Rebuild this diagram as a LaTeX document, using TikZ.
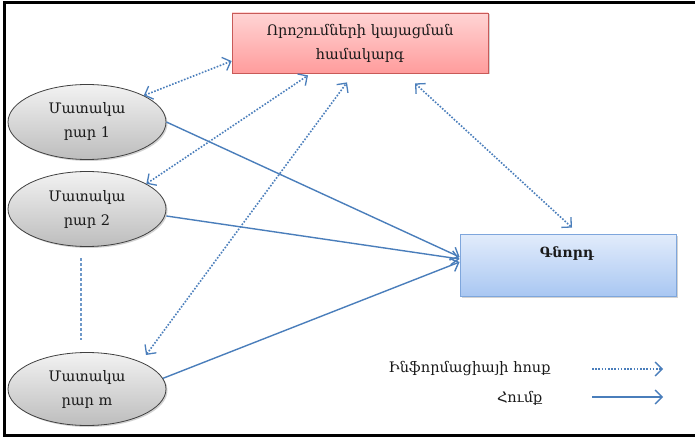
\documentclass[tikz,border=0pt]{standalone}
\usepackage{fontspec}
\newfontfamily\armfont{DejaVu Serif}
\usetikzlibrary{arrows.meta,shapes.geometric,shadows,calc}
\definecolor{flow}{HTML}{4A7EBB}
\definecolor{pinktop}{HTML}{FFD4D4}
\definecolor{pinkbot}{HTML}{FF9C9C}
\definecolor{pinkedge}{HTML}{C85A58}
\definecolor{bluetop}{HTML}{E2ECFB}
\definecolor{bluebot}{HTML}{A9C7F2}
\definecolor{blueedge}{HTML}{7EA6DC}
\definecolor{graytop}{HTML}{F2F2F2}
\definecolor{graybot}{HTML}{BDBDBD}
\definecolor{ink}{HTML}{1A1A1A}
\tikzset{
  txt/.style={font=\armfont\fontsize{14.5}{24}\selectfont, align=center, text=ink},
  shad/.style={drop shadow={opacity=0.35,shadow xshift=1.5pt,shadow yshift=-1.5pt}},
  dmsbox/.style={txt, rectangle, draw=pinkedge, line width=0.8pt, shad,
    top color=pinktop, bottom color=pinkbot, minimum width=256pt, minimum height=60pt},
  buyerbox/.style={rectangle, draw=blueedge, line width=0.8pt, shad,
    top color=bluetop, bottom color=bluebot, minimum width=216pt, minimum height=62pt},
  supp/.style={txt, ellipse, draw=black!75, line width=0.8pt, shad,
    top color=graytop, bottom color=graybot, minimum width=158pt, minimum height=75pt, inner sep=0pt},
  raw/.style={draw=flow, line width=1.4pt, -{Straight Barb[length=7pt,width=14pt,line width=1.4pt]}},
  info/.style={draw=flow, line width=1.6pt, dash pattern=on 1.6pt off 1.6pt,
    {Straight Barb[length=7pt,width=14pt,line width=1.3pt]}-{Straight Barb[length=7pt,width=14pt,line width=1.3pt]}},
  infoone/.style={draw=flow, line width=1.6pt, dash pattern=on 1.6pt off 1.6pt,
    -{Straight Barb[length=7pt,width=14pt,line width=1.3pt]}},
}
\begin{document}
\begin{tikzpicture}[x=1pt,y=-1pt]
\useasboundingbox (0,0) rectangle (695,438);
\fill[white] (0,0) rectangle (695,438);
\draw[line width=3pt] (695,2.5) -- (4.5,2.5) -- (4.5,435.5) -- (695,435.5);

\node[dmsbox] (dms) at (360,43) {Որոշումների կայացման\\համակարգ};
\node[buyerbox] (buyer) at (568,265) {};
\node[txt, font=\armfont\bfseries\fontsize{14}{24}\selectfont] (buyertxt) at (567,254) {Գնորդ};

\node[supp] (s1) at (87,122) {Մատակա\\րար 1};
\node[supp] (s2) at (87,209) {Մատակա\\րար 2};
\node[supp, minimum height=73pt] (s3) at (87,389) {Մատակա\\րար m};

\coordinate (v1) at (81,258);
\coordinate (v2) at (81,340);
\draw[draw=flow!80, line width=1.3pt, dash pattern=on 3pt off 2pt] (v1) -- (v2);

% raw material flows
\draw[raw] (s1.east) -- ($(buyer.west)+(0,-8)$);
\draw[raw] ([yshift=-7pt]s2.east) -- ($(buyer.west)+(0,-6)$);
\draw[raw] (s3.8) -- ($(buyer.west)+(0,-3)$);

% information flows
\draw[info] (s1.25) -- (dms.188);
\draw[info] (s2.23) -- ($(dms.south)+(-52,2)$);
\draw[info] ($(s3.center)+(59,-34)$) -- ($(dms.south)+(-13,9)$);
\draw[info] ($(dms.south)+(55,10)$) -- ($(buyer.north)+(4,-6)$);

% legend
\node[txt, anchor=east] (lginfo) at (554,369) {Ինֆորմացիայի հոսք};
\node[txt, anchor=east] (lgraw) at (546,398) {Հումք};
\coordinate (li1) at (592,369);
\coordinate (li2) at (663,369);
\coordinate (lr1) at (592,397);
\coordinate (lr2) at (663,397);
\draw[infoone] (li1) -- (li2);
\draw[raw] (lr1) -- (lr2);
\end{tikzpicture}
\end{document}
